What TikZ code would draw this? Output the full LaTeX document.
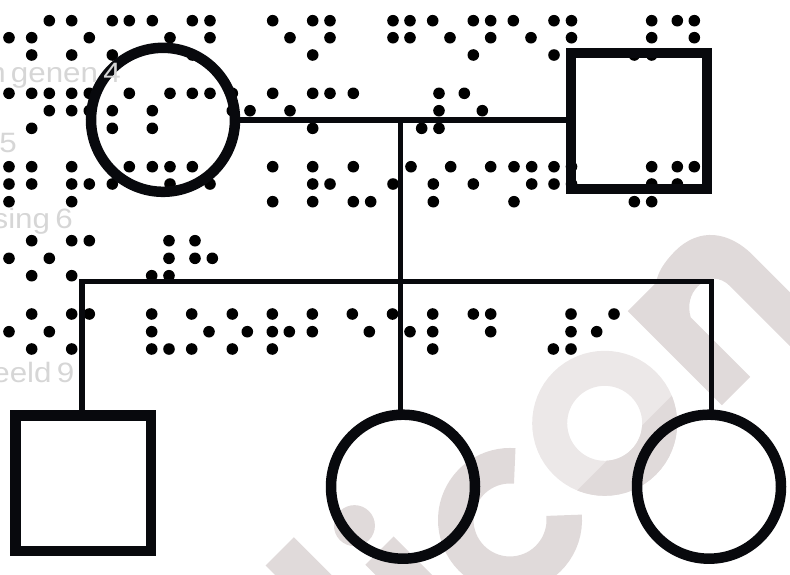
\documentclass[tikz,border=0pt]{standalone}
\usepackage{fontspec}
\newfontfamily\greyfont[FakeStretch=1.12,WordSpace=0.6]{Liberation Sans}
\definecolor{ink}{HTML}{08090D}
\definecolor{wmdark}{HTML}{E0DADA}
\definecolor{wmlight}{HTML}{ECE8E8}
\definecolor{greytxt}{HTML}{D6D6D6}
\newcommand\brailledots[2]{\foreach \xx in {#2}{\fill[black] (\xx,#1) circle[radius=5.8];}}
\tikzset{
  fem/.style={circle, draw=ink, line width=10.5, minimum size=144, inner sep=0, outer sep=0},
  mal/.style={rectangle, draw=ink, line width=10.3, minimum size=136, inner sep=0, outer sep=0},
  conn/.style={draw=ink, line width=5.5},
  greytext/.style={font=\greyfont\fontsize{28}{28}\selectfont, text=greytxt, inner sep=0, anchor=base east},
}
\begin{document}
\begin{tikzpicture}[x=1pt, y=-1pt]
\useasboundingbox (0,0) rectangle (790,574);
% watermark
\begin{scope}
  \clip (0,0) rectangle (790,574);
  \begin{scope}[shift={(736,391)}, rotate=45]
    \fill[wmdark] (-456,-209.3) rectangle (-416,10);
    \fill[wmdark] (-385,-139.3) rectangle (-345,10);
    \fill[wmdark] (-365,-174.6) circle[radius=20.5];
    \draw[wmdark, line width=35.5] (-251,-68.6) ++(40:54.25) arc[start angle=40, end angle=320, radius=54.25];
    \draw[wmlight, line width=35] (-115.7,-70) circle[radius=55];
    \begin{scope}
      \clip (-200,-42) rectangle (-30,30);
      \draw[wmdark, line width=35] (-115.7,-70) circle[radius=55];
    \end{scope}
    \fill[wmdark] (-20,0) -- (-20,-133) -- (20,-133)
      .. controls (28,-139) and (40,-142) .. (56,-142)
      .. controls (90,-142) and (108,-118) .. (108,-84)
      -- (108,20) -- (70,20) -- (70,-78)
      .. controls (70,-93) and (61,-101) .. (47,-101)
      .. controls (36,-101) and (26,-95) .. (20,-84)
      -- (20,0) -- cycle;
  \end{scope}
\end{scope}
% braille dots
\brailledots{20.7}{49.3,71.7,112.3,129.3,152.3,192.3,210,272.7,312.7,330,393,410,432.7,473.3,490.7,513.3,554,571.5,651.7,677.3,694.3}
\brailledots{37.7}{9,31.7,89.3,170,210,290,330,393,410,450,490.7,531,571.5,651.7,694.3}
\brailledots{55}{31.7,71.7,112.3,192.3,312.7,473.3,554,634.3,651.7}
\brailledots{93.3}{9,31.7,49.3,71.7,89.3,129.3,170,192.3,210,232.3,272.7,312.7,330,353.3,439,464.3}
\brailledots{110.7}{49.3,71.7,89.3,112.3,152.3,232.3,250,290,439,482.3}
\brailledots{128.3}{31.7,112.3,152.3,312.7,421.7,439}
\brailledots{166.7}{9,31.7,71.7,129.3,152.3,170,192.3,272.7,312.7,353.3,411,450.7,490.7,514,531.7,554,571.5,651.7,677.3,694.3}
\brailledots{184}{9,31.7,71.7,89.3,112.3,170,210,312.7,330,393,433.3,473.3,531.7,554,571.5,651.7,677.3}
\brailledots{201.7}{9,71.7,272.7,312.7,353.3,370.7,433.3,514,634.3,651.7}
\brailledots{240.7}{31.7,71.7,89.3,169,195}
\brailledots{258.3}{9,49.3,169,195,212.3}
\brailledots{275.7}{31.7,71.7,151.7,169}
\brailledots{314}{31.7,71.7,89.3,151.7,191.7,232.3,272.3,312.3,352.3,392.5,432.7,473.3,490.7,571,614}
\brailledots{331.7}{9,49.3,151.7,209,247.3,272.3,289.3,312.3,369.3,410,432.7,490.7,571,596.7}
\brailledots{349}{31.7,71.7,151.7,169,191.7,232.3,272.3,432.7,553.3,571}
% pedigree
\node[fem] (f) at (163,119.8) {};
\node[mal] (m) at (638.7,121.2) {};
\node[mal, minimum size=135.5, line width=10.5] (sL) at (83,483) {};
\node[fem] (dM) at (403,486.7) {};
\node[fem] (dR) at (709,486.7) {};
\coordinate (jM) at (400.3,120);
\coordinate (jL) at (82,281.7);
\coordinate (jR) at (711.6,281.7);
\draw[conn] (f.east) -- (f.east -| m.west);
\draw[conn] (jM) -- (jM |- dM.north);
\draw[conn] (jL |- sL.north) -- (jL) -- (jR) -- (jR |- dR.north);
% grey text
\node[greytext] (t4) at (121,82) {n genen 4};
\node[greytext] (t5) at (17,152) {5};
\node[greytext] (t6) at (73,228.3) {sing 6};
\node[greytext] (t9) at (74.5,382) {eeld 9};
\end{tikzpicture}
\end{document}
